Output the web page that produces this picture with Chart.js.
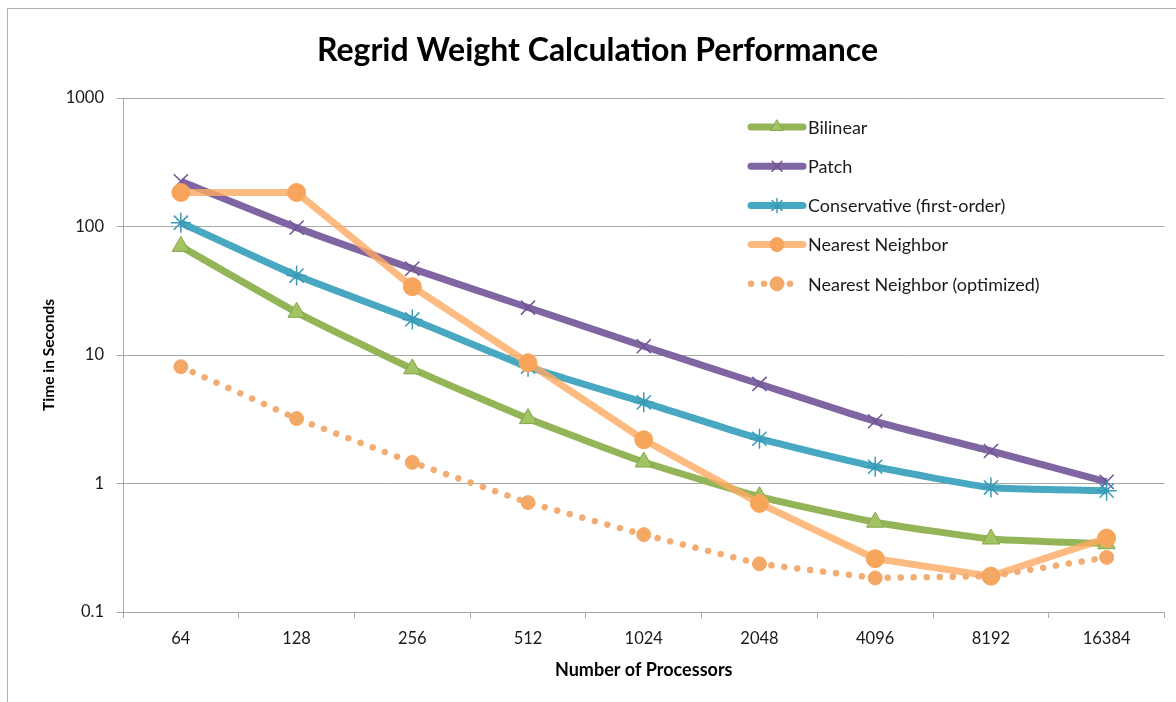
<!DOCTYPE html>
<html>
<head>
<meta charset="utf-8">
<title>Regrid Weight Calculation Performance</title>
<script src="https://cdn.jsdelivr.net/npm/chart.js@4.4.1/dist/chart.umd.min.js"></script>
<style>
  html, body { margin: 0; padding: 0; background: #fff; }
  #wrap { position: relative; width: 1176px; height: 702px; overflow: hidden; }
  #frame {
    position: absolute; left: 7px; top: 8px; width: 1300px; height: 800px;
    border-left: 1px solid #b0b0b0; border-top: 1px solid #b0b0b0;
  }
  #chart { position: absolute; left: 0; top: 0; }
</style>
</head>
<body>
<div id="wrap">
  <div id="frame"></div>
  <canvas id="chart" width="1176" height="702"></canvas>
</div>
<script>
const processors = ["64", "128", "256", "512", "1024", "2048", "4096", "8192", "16384"];
const bilinear = [70, 21.5, 7.8, 3.2, 1.47, 0.79, 0.50, 0.37, 0.34];
const patch = [225, 98, 47, 23.4, 11.7, 5.95, 3.05, 1.79, 1.03];
const conservative = [107, 41.5, 18.9, 8.1, 4.28, 2.23, 1.35, 0.93, 0.88];
const nearest = [184, 184, 34, 8.7, 2.19, 0.70, 0.26, 0.19, 0.376];
const nearestOpt = [8.1, 3.2, 1.46, 0.71, 0.40, 0.237, 0.184, 0.19, 0.266];
const yTicks = [0.1, 1, 10, 100, 1000];

const font = "Lato";
const gridColor = "#a8a8a8";

// legend drawn inside the plot area, like the spreadsheet original
const insideLegend = {
  id: "insideLegend",
  afterDatasetsDraw(chart) {
    const { ctx, chartArea } = chart;
    const x0 = chartArea.left + 628;
    const x1 = chartArea.left + 680;
    const xm = (x0 + x1) / 2;
    chart.data.datasets.forEach((ds, i) => {
      const y = chartArea.top + 29 + i * 39.2;
      ctx.save();
      ctx.strokeStyle = ds.borderColor;
      ctx.lineWidth = ds.borderWidth;
      ctx.lineCap = "round";
      ctx.setLineDash(ds.borderDash || []);
      ctx.beginPath();
      ctx.moveTo(x0, y);
      ctx.lineTo(x1, y);
      ctx.stroke();
      ctx.setLineDash([]);
      ctx.fillStyle = ds.pointBackgroundColor;
      ctx.strokeStyle = ds.pointBorderColor;
      ctx.lineWidth = ds.pointBorderWidth;
      if (Chart.helpers && Chart.helpers.drawPoint) {
        Chart.helpers.drawPoint(ctx, {
          pointStyle: ds.pointStyle,
          radius: ds.legendRadius,
          borderWidth: ds.pointBorderWidth,
          rotation: 0
        }, xm, y);
      }
      ctx.fillStyle = "#1a1a1a";
      ctx.font = "18px " + font;
      ctx.textBaseline = "middle";
      ctx.textAlign = "left";
      ctx.fillText(ds.label, chartArea.left + 685, y + 1);
      ctx.restore();
    });
  }
};

new Chart(document.getElementById("chart"), {
  type: "line",
  data: {
    labels: processors,
    datasets: [
      {
        label: "Bilinear",
        data: bilinear,
        borderColor: "#93b557",
        borderWidth: 7,
        tension: 0.15,
        pointStyle: "triangle",
        pointRadius: 10,
        legendRadius: 7,
        pointBackgroundColor: "#a2c462",
        pointBorderColor: "#84a548",
        pointBorderWidth: 1,
        order: 4
      },
      {
        label: "Patch",
        data: patch,
        borderColor: "#7f65a1",
        borderWidth: 7,
        tension: 0.15,
        pointStyle: "crossRot",
        pointRadius: 10,
        legendRadius: 7,
        pointBackgroundColor: "#7f65a1",
        pointBorderColor: "#6e5494",
        pointBorderWidth: 1.5,
        order: 3
      },
      {
        label: "Conservative (first-order)",
        data: conservative,
        borderColor: "#48a8c2",
        borderWidth: 7,
        tension: 0.15,
        pointStyle: "star",
        pointRadius: 10,
        legendRadius: 7,
        pointBackgroundColor: "#48a8c2",
        pointBorderColor: "#3a9ab6",
        pointBorderWidth: 1.5,
        order: 2
      },
      {
        label: "Nearest Neighbor",
        data: nearest,
        borderColor: "rgba(252, 170, 98, 0.8)",
        borderWidth: 7,
        tension: 0,
        pointStyle: "circle",
        pointRadius: 9,
        legendRadius: 7,
        pointBackgroundColor: "#f8a55c",
        pointBorderColor: "#f8a55c",
        pointBorderWidth: 1,
        order: 1
      },
      {
        label: "Nearest Neighbor (optimized)",
        data: nearestOpt,
        borderColor: "#f2ad74",
        borderWidth: 6.5,
        borderDash: [0.01, 13],
        borderCapStyle: "round",
        tension: 0,
        pointStyle: "circle",
        pointRadius: 7,
        legendRadius: 7,
        pointBackgroundColor: "#f4a866",
        pointBorderColor: "#f4a866",
        pointBorderWidth: 1,
        order: 0
      }
    ]
  },
  options: {
    responsive: false,
    animation: false,
    layout: { padding: { top: 0, right: 11, bottom: 0, left: 30 } },
    plugins: {
      legend: { display: false },
      tooltip: { enabled: false },
      title: {
        display: true,
        text: "Regrid Weight Calculation Performance",
        color: "#000",
        font: { family: font, size: 32, weight: "bold" },
        padding: { top: 31, bottom: 28.6 }
      }
    },
    scales: {
      x: {
        type: "category",
        offset: true,
        afterFit: (scale) => { scale.height = 90; },
        grid: { offset: true, drawOnChartArea: false, drawTicks: true, tickLength: 6, color: gridColor },
        border: { color: gridColor, width: 1 },
        ticks: { color: "#1a1a1a", padding: 11, font: { family: font, size: 16.5 } },
        title: {
          display: true, text: "Number of Processors", color: "#000",
          font: { family: font, size: 18, weight: "bold" },
          padding: { bottom: 21 }
        }
      },
      y: {
        type: "logarithmic",
        min: 0.1,
        max: 1000,
        afterFit: (scale) => { scale.width = 93; },
        afterBuildTicks: (scale) => { scale.ticks = yTicks.map((v) => ({ value: v })); },
        grid: { color: gridColor, tickLength: 6, lineWidth: 1 },
        border: { color: gridColor, width: 1 },
        ticks: {
          color: "#1a1a1a", padding: 13, font: { family: font, size: 16.5 },
          callback: (v) => String(v)
        },
        title: {
          display: true, text: "Time in Seconds", color: "#000",
          font: { family: font, size: 15.5, weight: "bold" },
          padding: { top: 10 }
        }
      }
    }
  },
  plugins: [insideLegend]
});
</script>
</body>
</html>
